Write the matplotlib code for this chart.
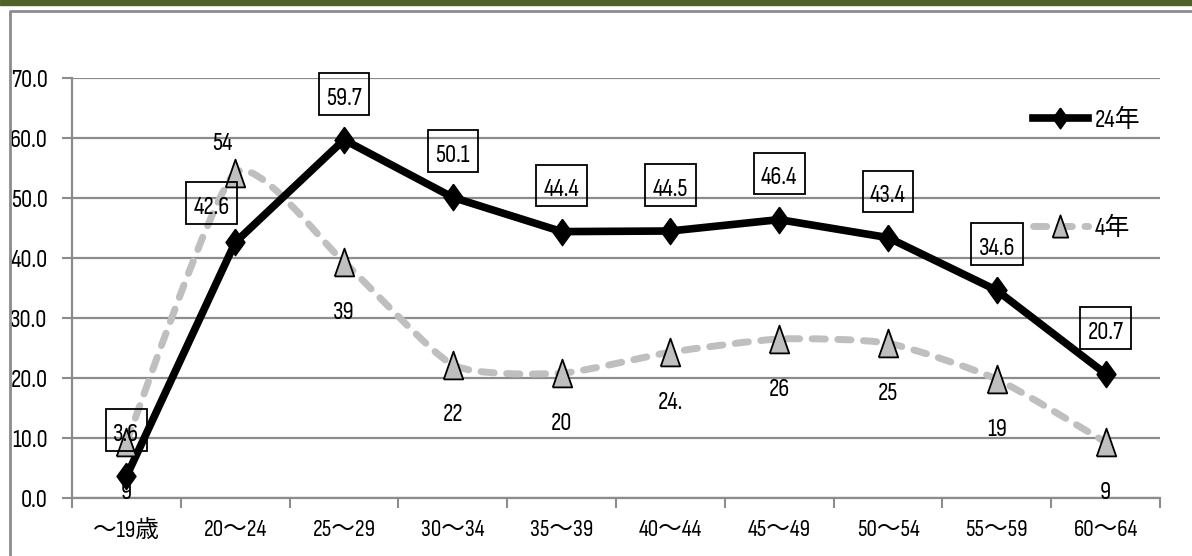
import numpy as np
import matplotlib
matplotlib.use('Agg')
import matplotlib.pyplot as plt
from matplotlib.path import Path
from matplotlib.patches import PathPatch, Rectangle
from matplotlib.lines import Line2D

plt.rcParams['font.family'] = ['Sofia Sans Condensed', 'Noto Sans CJK JP', 'DejaVu Sans']

# age groups and the two survey years
ages = ['～19歳', '20～24', '25～29', '30～34', '35～39', '40～44', '45～49', '50～54', '55～59', '60～64']
y24 = [3.6, 42.6, 59.7, 50.1, 44.4, 44.5, 46.4, 43.4, 34.6, 20.7]
y4 = [9.3, 54.2, 39.3, 22.2, 20.8, 24.3, 26.5, 25.8, 19.8, 9.3]
lab4 = ['9', '54', '39', '22', '20', '24.', '26', '25', '19', '9']

gray = '#BFBFBF'
grid_c = '#8C8C8C'
dash = (0, (1.9, 1.8))
diamond = [(0, 1), (0.72, 0), (0, -1), (-0.72, 0), (0, 1)]
tri = [(-0.7, -1), (0.7, -1), (0, 1), (-0.7, -1)]
fs = 18


def tall_box(x0, y0, width, height, mutation_size):
    # square frame, extra room above the digits
    px, top, bot = 0.3 * mutation_size, 0.55 * mutation_size, 0.2 * mutation_size
    x0, y0 = x0 - px, y0 - bot
    x1, y1 = x0 + width + 2 * px, y0 + height + bot + top
    return Path([(x0, y0), (x1, y0), (x1, y1), (x0, y1), (x0, y0)], closed=True)


fig = plt.figure(figsize=(11.92, 5.56), dpi=100)
ax = fig.add_axes([72 / 1192, 1 - 498 / 556, 1088 / 1192, 420 / 556])

x = np.arange(len(ages))

# smoothed line for 4年 (cardinal spline as cubic bezier, low tension)
k = 0.1
pts = np.column_stack([x, y4]).astype(float)
ext = np.vstack([pts[0], pts, pts[-1]])
verts = [pts[0]]
codes = [Path.MOVETO]
for i in range(len(pts) - 1):
    p0, p1, p2, p3 = ext[i], ext[i + 1], ext[i + 2], ext[i + 3]
    verts += [p1 + (p2 - p0) * k, p2 - (p3 - p1) * k, p2]
    codes += [Path.CURVE4] * 3
smooth = PathPatch(Path(verts, codes), fill=False, edgecolor=gray, lw=5,
                   linestyle=dash, capstyle='round', zorder=3)
ax.add_patch(smooth)

ax.plot(x, y24, color='black', lw=5.5, zorder=4)
ax.plot(x, y4, ls='none', marker=tri, ms=20, mfc=gray, mec='black', mew=1.3, zorder=5)
ax.plot(x, y24, ls='none', marker=diamond, ms=19, mfc='black', mec='black', zorder=6)

# value labels
for i, v in enumerate(y24):
    off = (-17, 25) if i == 1 else (0, 30)
    ax.annotate(f'{v:.1f}', (x[i], v), xytext=off, textcoords='offset points',
                ha='center', va='center', fontsize=fs, zorder=7,
                bbox=dict(boxstyle=tall_box, fc='none', ec='black', lw=1.3))
for i, v in enumerate(y4):
    off = (-9, 21) if i == 1 else (0, -36)
    ax.annotate(lab4[i], (x[i], v), xytext=off, textcoords='offset points',
                ha='center', va='center', fontsize=fs, zorder=7)

ax.set_xlim(-0.5, len(ages) - 0.5)
ax.set_ylim(0, 70)
ax.set_yticks(np.arange(0, 71, 10))
ax.set_yticklabels([f'{t:.1f}' for t in range(0, 71, 10)])
ax.set_xticks(x)
ax.set_xticklabels(ages)
ax.set_xticks(np.arange(-0.5, len(ages)), minor=True)
ax.tick_params(axis='x', which='major', length=0, pad=15, labelsize=17)
ax.tick_params(axis='x', which='minor', length=7.5, width=1.5, color=grid_c, direction='out')
ax.tick_params(axis='y', length=7.5, width=1.5, color=grid_c, pad=10, labelsize=fs)
ax.grid(axis='y', color=grid_c, lw=1.6, zorder=1)
ax.set_axisbelow(True)
for s in ['top', 'right']:
    ax.spines[s].set_visible(False)
for s in ['left', 'bottom']:
    ax.spines[s].set_color(grid_c)
    ax.spines[s].set_linewidth(1.6)

handles = [
    Line2D([], [], color='black', lw=5.5, marker=diamond, ms=15, mfc='black'),
    Line2D([], [], color=gray, lw=5, ls=dash, dash_capstyle='round',
           marker=tri, ms=16, mfc=gray, mec='black', mew=1.3),
]
ax.legend(handles, ['24年', '4年'], loc='center left', bbox_to_anchor=(0.883, 0.771),
          frameon=False, fontsize=fs, handlelength=2.2, handletextpad=0.3,
          labelspacing=3.4, borderpad=0, borderaxespad=0, numpoints=1)

# page frame
fig.patches.append(Rectangle((0, 1 - 5 / 556), 1, 5 / 556, transform=fig.transFigure,
                             color='#4F6228', zorder=0))
fig.lines.append(Line2D([10 / 1192, 10 / 1192, 1], [0, 1 - 11 / 556, 1 - 11 / 556],
                        transform=fig.transFigure, color=grid_c, lw=2))

fig.savefig('out.png', dpi=100)
